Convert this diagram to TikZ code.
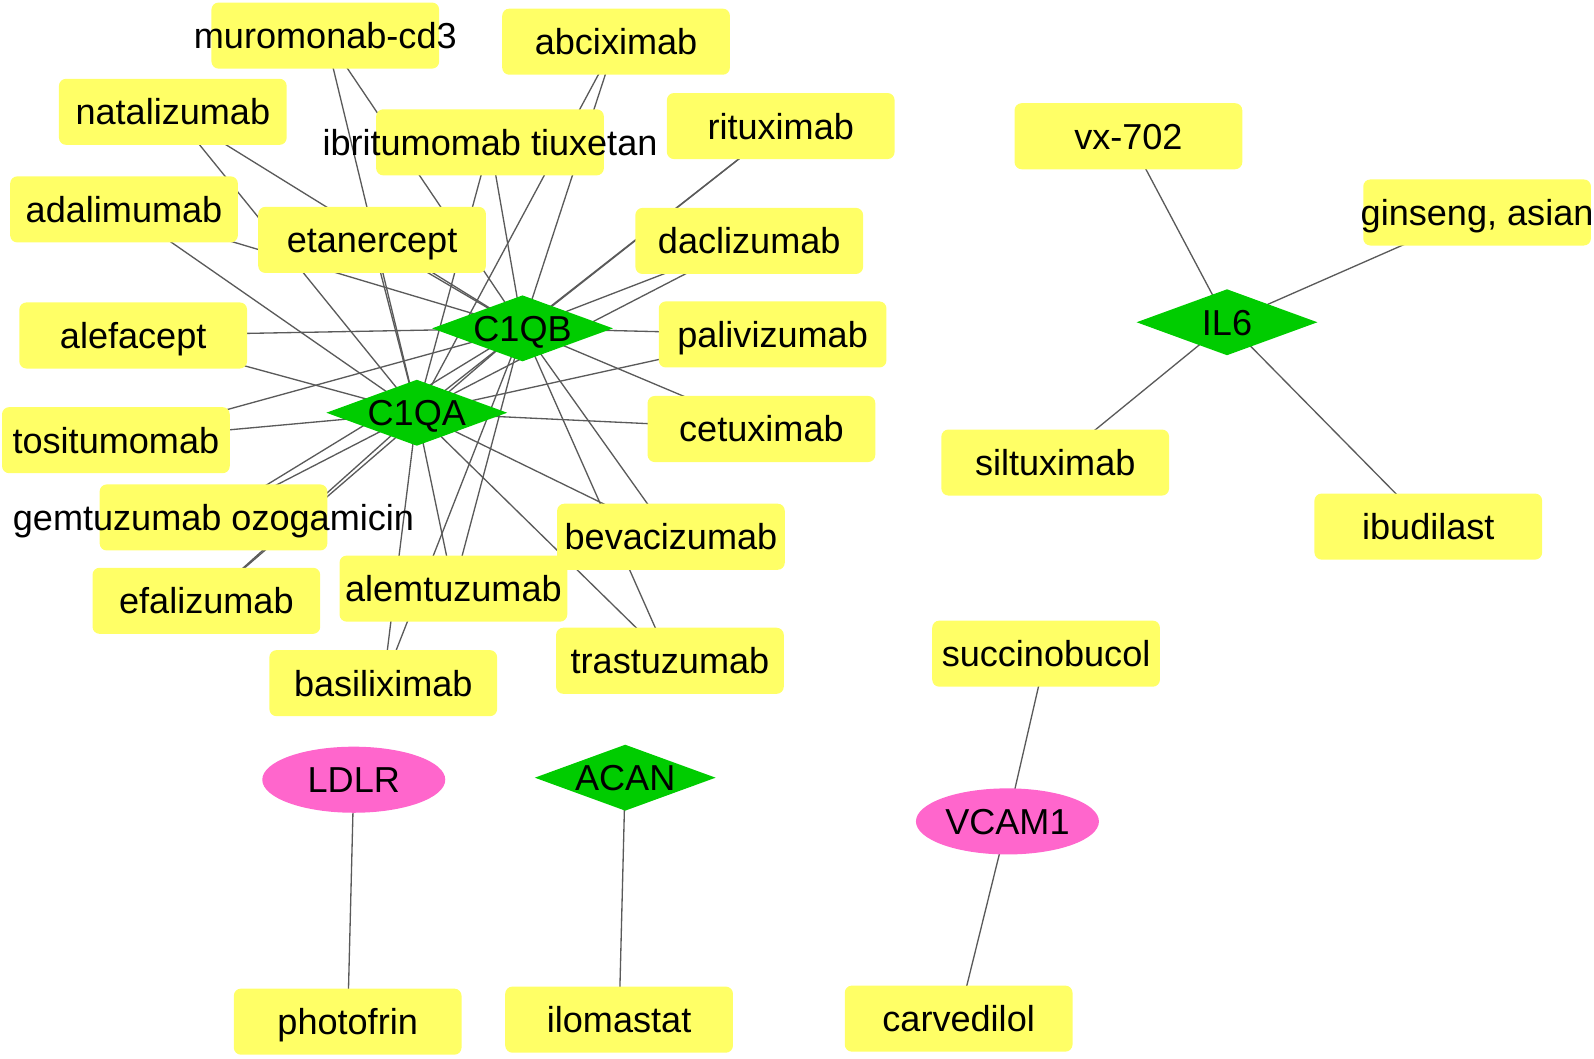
\documentclass[tikz,border=0pt]{standalone}
\usepackage{fontspec}
\setmainfont{Liberation Sans}
\usetikzlibrary{shapes.geometric}
\definecolor{nodeyellow}{RGB}{255,255,102}
\definecolor{genegreen}{RGB}{0,204,0}
\definecolor{genepink}{RGB}{255,102,204}
\definecolor{edgegray}{RGB}{90,90,90}
\tikzset{
  lbl/.style={font=\fontsize{35.5}{40}\selectfont, text height=25.5pt, text depth=0pt, inner sep=0pt, text=black},
  drug/.style={rectangle, rounded corners=7pt, fill=nodeyellow, minimum width=224pt, minimum height=65pt, inner sep=0pt, label={[lbl]center:#1}},
  gened/.style={diamond, aspect=2.75, fill=genegreen, minimum width=178pt, minimum height=65pt, inner sep=0pt, label={[lbl]center:#1}},
  genee/.style={ellipse, fill=genepink, minimum width=180pt, minimum height=65pt, inner sep=0pt, label={[lbl]center:#1}},
  edge/.style={draw=edgegray, line width=1.3pt}
}
\begin{document}
\begin{tikzpicture}[x=1pt,y=-1pt]
\useasboundingbox (0,0) rectangle (1568,1041);
% centers
\coordinate (pC1QA) at (410,406);
\coordinate (pC1QB) at (514,323);
\coordinate (pIL6) at (1207,317);
\coordinate (pLDLR) at (348,767);
\coordinate (pACAN) at (615,765);
\coordinate (pVCAM) at (991,808);
\coordinate (pmur) at (320,35);
\coordinate (pabc) at (606,41);
\coordinate (pnat) at (170,110);
\coordinate (pibr) at (482,140);
\coordinate (prit) at (768,124);
\coordinate (pada) at (122,206);
\coordinate (peta) at (366,236);
\coordinate (pdac) at (737,237);
\coordinate (pale) at (131,330);
\coordinate (ppal) at (760,329);
\coordinate (ptos) at (114,433);
\coordinate (pcet) at (749,422);
\coordinate (pgem) at (210,509);
\coordinate (pbev) at (660,528);
\coordinate (pefa) at (203,591);
\coordinate (palm) at (446,579);
\coordinate (ptra) at (659,650);
\coordinate (pbas) at (377,672);
\coordinate (pvx) at (1110,134);
\coordinate (pgin) at (1453,209);
\coordinate (psil) at (1038,455);
\coordinate (pibu) at (1405,518);
\coordinate (psuc) at (1029,643);
\coordinate (pcar) at (943,1002);
\coordinate (ppho) at (342,1005);
\coordinate (pilo) at (609,1003);
% edges
\foreach \d in {mur,abc,nat,ibr,rit,ada,eta,dac,ale,pal,tos,cet,gem,bev,efa,alm,tra,bas}{
  \draw[edge] (p\d) -- (pC1QA);
  \draw[edge] (p\d) -- (pC1QB);
}
\foreach \d in {vx,gin,sil,ibu}{ \draw[edge] (p\d) -- (pIL6); }
\draw[edge] (psuc) -- (pVCAM);
\draw[edge] (pcar) -- (pVCAM);
\draw[edge] (ppho) -- (pLDLR);
\draw[edge] (pilo) -- (pACAN);
% drug nodes
\node[drug={muromonab-cd3}] (mur) at (pmur) {};
\node[drug={abciximab}] (abc) at (pabc) {};
\node[drug={natalizumab}] (nat) at (pnat) {};
\node[drug={ibritumomab tiuxetan}] (ibr) at (pibr) {};
\node[drug={rituximab}] (rit) at (prit) {};
\node[drug={adalimumab}] (ada) at (pada) {};
\node[drug={etanercept}] (eta) at (peta) {};
\node[drug={daclizumab}] (dac) at (pdac) {};
\node[drug={alefacept}] (ale) at (pale) {};
\node[drug={palivizumab}] (pal) at (ppal) {};
\node[drug={tositumomab}] (tos) at (ptos) {};
\node[drug={cetuximab}] (cet) at (pcet) {};
\node[drug={gemtuzumab ozogamicin}] (gem) at (pgem) {};
\node[drug={bevacizumab}] (bev) at (pbev) {};
\node[drug={efalizumab}] (efa) at (pefa) {};
\node[drug={alemtuzumab}] (alm) at (palm) {};
\node[drug={trastuzumab}] (tra) at (ptra) {};
\node[drug={basiliximab}] (bas) at (pbas) {};
\node[drug={vx-702}] (vx) at (pvx) {};
\node[drug={ginseng, asian}] (gin) at (pgin) {};
\node[drug={siltuximab}] (sil) at (psil) {};
\node[drug={ibudilast}] (ibu) at (pibu) {};
\node[drug={succinobucol}] (suc) at (psuc) {};
\node[drug={carvedilol}] (car) at (pcar) {};
\node[drug={photofrin}] (pho) at (ppho) {};
\node[drug={ilomastat}] (ilo) at (pilo) {};
% gene nodes
\node[gened={C1QB}] (C1QB) at (pC1QB) {};
\node[gened={C1QA}] (C1QA) at (pC1QA) {};
\node[gened={IL6}] (IL6) at (pIL6) {};
\node[gened={ACAN}] (ACAN) at (pACAN) {};
\node[genee={LDLR}] (LDLR) at (pLDLR) {};
\node[genee={VCAM1}] (VCAM) at (pVCAM) {};
\end{tikzpicture}
\end{document}
